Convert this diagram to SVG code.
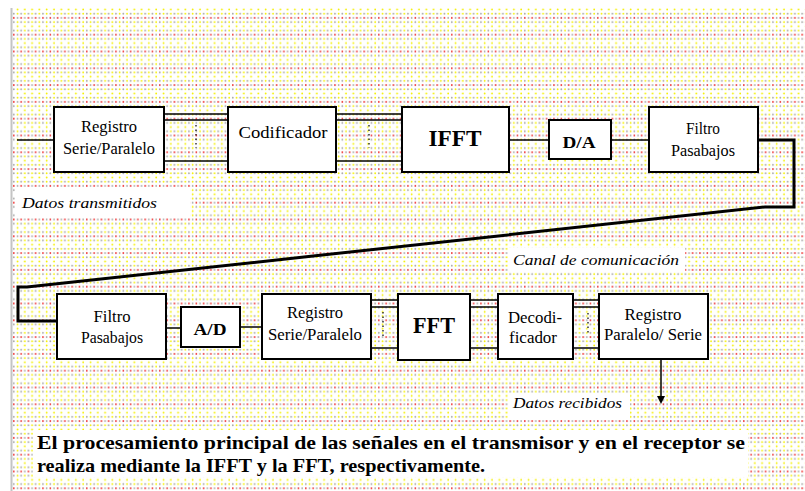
<svg xmlns="http://www.w3.org/2000/svg" width="805" height="491" viewBox="0 0 805 491">
<defs>
<pattern id="dots" x="12" y="8" width="14.6" height="16.8" patternUnits="userSpaceOnUse">
<circle cx="5.5" cy="1.5" r="0.9" fill="#f4f000"/>
<circle cx="12.8" cy="1.5" r="0.9" fill="#f4f000"/>
<circle cx="1.8" cy="5.7" r="0.9" fill="#a8a8a8"/>
<circle cx="5.5" cy="5.7" r="0.9" fill="#f4f000"/>
<circle cx="9.1" cy="5.7" r="0.9" fill="#a8a8a8"/>
<circle cx="12.8" cy="5.7" r="0.9" fill="#f4f000"/>
<circle cx="1.8" cy="9.9" r="0.9" fill="#f03030"/>
<circle cx="5.5" cy="9.9" r="0.9" fill="#a8a8a8"/>
<circle cx="9.1" cy="9.9" r="0.9" fill="#f03030"/>
<circle cx="12.8" cy="9.9" r="0.9" fill="#a8a8a8"/>
<circle cx="1.8" cy="14.1" r="0.9" fill="#a8a8a8"/>
<circle cx="5.5" cy="14.1" r="0.9" fill="#f4f000"/>
<circle cx="9.1" cy="14.1" r="0.9" fill="#a8a8a8"/>
<circle cx="12.8" cy="14.1" r="0.9" fill="#f4f000"/>
</pattern>
<style>
.box{fill:#fff;stroke:#000;stroke-width:2}
.ln{stroke:#000;stroke-width:1.5;fill:none}
.dot{stroke:#000;stroke-width:1.2;stroke-dasharray:1.5 3;fill:none}
.chan{stroke:#000;stroke-width:3;fill:none;stroke-linejoin:miter}
.t{font-family:"Liberation Serif","Times New Roman",serif;font-size:16px;text-anchor:middle;fill:#000}
.tb{font-family:"Liberation Serif","Times New Roman",serif;font-weight:bold;text-anchor:middle;fill:#000}
.it{font-family:"Liberation Serif","Times New Roman",serif;font-style:italic;font-size:15px;fill:#000}
.cap{font-family:"Liberation Serif","Times New Roman",serif;font-weight:bold;font-size:19px;fill:#000}
.wb{fill:#fff}
</style>
</defs>
<rect x="0" y="0" width="805" height="491" fill="#fff"/>
<rect x="12" y="8" width="793" height="483" fill="url(#dots)"/>
<line x1="11.5" y1="8" x2="11.5" y2="491" stroke="#c4c4c4" stroke-width="2"/>

<g id="labels-bg">
<rect class="wb" x="15" y="188" width="175" height="30"/>
<rect class="wb" x="508" y="248" width="177" height="24"/>
<rect class="wb" x="508" y="393" width="122" height="26"/>
<rect class="wb" x="33" y="430" width="715" height="47"/>
</g>

<g id="connectors">
<line class="ln" x1="17" y1="140" x2="54" y2="140"/>
<line class="ln" x1="164" y1="114" x2="228" y2="114"/>
<line class="ln" x1="164" y1="120" x2="228" y2="120"/>
<line class="ln" x1="164" y1="161" x2="228" y2="161"/>
<line class="dot" x1="196" y1="125" x2="196" y2="148"/>
<line class="ln" x1="336" y1="114" x2="402" y2="114"/>
<line class="ln" x1="336" y1="120" x2="402" y2="120"/>
<line class="ln" x1="336" y1="161" x2="402" y2="161"/>
<line class="dot" x1="369" y1="125" x2="369" y2="148"/>
<line class="ln" x1="509" y1="140" x2="549" y2="140"/>
<line class="ln" x1="611" y1="140" x2="649" y2="140"/>
<polyline class="chan" points="758,140 794,140 794,207 765,207 27,287 18,287 18,321 57,321"/>
<line class="ln" x1="166" y1="328" x2="181" y2="328"/>
<line class="ln" x1="240" y1="327" x2="262" y2="327"/>
<line class="ln" x1="371" y1="300" x2="398" y2="300"/>
<line class="ln" x1="371" y1="307" x2="398" y2="307"/>
<line class="ln" x1="371" y1="348" x2="398" y2="348"/>
<line class="dot" x1="383" y1="312" x2="383" y2="336"/>
<line class="ln" x1="470" y1="300" x2="498" y2="300"/>
<line class="ln" x1="470" y1="307" x2="498" y2="307"/>
<line class="ln" x1="470" y1="348" x2="498" y2="348"/>
<line class="ln" x1="573" y1="300" x2="599" y2="300"/>
<line class="ln" x1="573" y1="307" x2="599" y2="307"/>
<line class="ln" x1="573" y1="348" x2="599" y2="348"/>
<line class="dot" x1="588" y1="313" x2="588" y2="334"/>
<line class="ln" x1="661" y1="359" x2="661" y2="398"/>
<polygon points="657,396 665,396 661,404" fill="#000"/>
</g>

<g id="n-registro-sp">
<rect class="box" x="54" y="107" width="110" height="65"/>
<text class="t" x="109" y="132" textLength="56" lengthAdjust="spacingAndGlyphs">Registro</text>
<text class="t" x="109" y="154" textLength="92" lengthAdjust="spacingAndGlyphs">Serie/Paralelo</text>
</g>
<g id="n-codificador">
<rect class="box" x="228" y="107" width="108" height="65"/>
<text class="t" x="283" y="138" textLength="89" lengthAdjust="spacingAndGlyphs">Codificador</text>
</g>
<g id="n-ifft">
<rect class="box" x="402" y="107" width="107" height="65"/>
<text class="tb" x="455" y="146" font-size="24" textLength="53" lengthAdjust="spacingAndGlyphs">IFFT</text>
</g>
<g id="n-da">
<rect class="box" x="549" y="120" width="62" height="39"/>
<text class="tb" x="579" y="148" font-size="16" textLength="33" lengthAdjust="spacingAndGlyphs">D/A</text>
</g>
<g id="n-filtro-tx">
<rect class="box" x="649" y="107" width="109" height="65"/>
<text class="t" x="703" y="134" textLength="34" lengthAdjust="spacingAndGlyphs">Filtro</text>
<text class="t" x="703" y="156" textLength="64" lengthAdjust="spacingAndGlyphs">Pasabajos</text>
</g>

<g id="n-filtro-rx">
<rect class="box" x="57" y="294" width="109" height="65"/>
<text class="t" x="112" y="322" textLength="37" lengthAdjust="spacingAndGlyphs">Filtro</text>
<text class="t" x="112" y="343" textLength="62" lengthAdjust="spacingAndGlyphs">Pasabajos</text>
</g>
<g id="n-ad">
<rect class="box" x="181" y="307" width="59" height="40"/>
<text class="tb" x="210" y="335" font-size="16" textLength="33" lengthAdjust="spacingAndGlyphs">A/D</text>
</g>
<g id="n-registro-sp2">
<rect class="box" x="262" y="294" width="109" height="65"/>
<text class="t" x="315" y="318" textLength="56" lengthAdjust="spacingAndGlyphs">Registro</text>
<text class="t" x="315" y="340" textLength="94" lengthAdjust="spacingAndGlyphs">Serie/Paralelo</text>
</g>
<g id="n-fft">
<rect class="box" x="398" y="294" width="72" height="66"/>
<text class="tb" x="434" y="333" font-size="24" textLength="42" lengthAdjust="spacingAndGlyphs">FFT</text>
</g>
<g id="n-decodificador">
<rect class="box" x="498" y="294" width="75" height="65"/>
<text class="t" x="535" y="323" textLength="54" lengthAdjust="spacingAndGlyphs">Decodi-</text>
<text class="t" x="533" y="343" textLength="48" lengthAdjust="spacingAndGlyphs">ficador</text>
</g>
<g id="n-registro-ps">
<rect class="box" x="599" y="294" width="109" height="65"/>
<text class="t" x="653" y="320" textLength="57" lengthAdjust="spacingAndGlyphs">Registro</text>
<text class="t" x="653" y="340" textLength="98" lengthAdjust="spacingAndGlyphs">Paralelo/ Serie</text>
</g>

<g id="labels">
<text class="it" x="22" y="208" textLength="135" lengthAdjust="spacingAndGlyphs">Datos transmitidos</text>
<text class="it" x="513" y="265" textLength="166" lengthAdjust="spacingAndGlyphs">Canal de comunicación</text>
<text class="it" x="513" y="408" textLength="109" lengthAdjust="spacingAndGlyphs">Datos recibidos</text>
<text class="cap" x="37" y="449" textLength="708" lengthAdjust="spacingAndGlyphs">El procesamiento principal de las señales en el transmisor y en el receptor se</text>
<text class="cap" x="37" y="472" textLength="448" lengthAdjust="spacingAndGlyphs">realiza mediante la IFFT y la FFT, respectivamente.</text>
</g>
</svg>
